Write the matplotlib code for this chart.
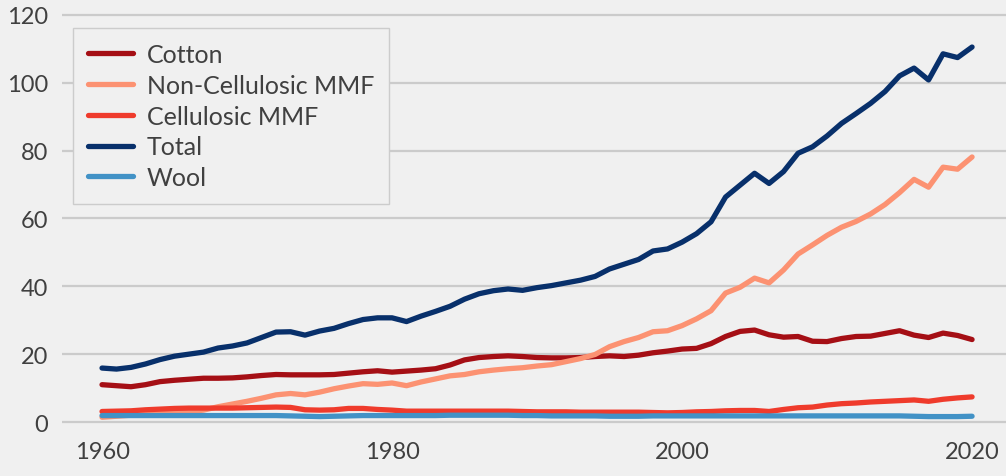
import matplotlib
matplotlib.use("Agg")

import matplotlib.pyplot as plt

BACKGROUND = "#f0f0f0"
TEXT_COLOR = "#404040"
GRID_COLOR = "#cbcbcb"
DPI = 100

years = list(range(1960, 2021))

cotton = [
    11.0, 10.7, 10.4, 11.0, 11.9, 12.3, 12.6, 12.9, 12.9, 13.0,
    13.3, 13.7, 14.0, 13.9, 13.9, 13.9, 14.0, 14.4, 14.8, 15.1,
    14.7, 15.0, 15.3, 15.7, 16.8, 18.3, 19.0, 19.3, 19.5, 19.3,
    19.0, 18.9, 18.9, 19.0, 19.3, 19.5, 19.3, 19.7, 20.4, 20.9,
    21.5, 21.7, 23.1, 25.2, 26.7, 27.1, 25.7, 25.0, 25.2, 23.8,
    23.7, 24.6, 25.2, 25.3, 26.1, 26.9, 25.6, 24.9, 26.2, 25.5,
    24.3,
]

non_cellulosic = [
    1.4, 1.7, 2.0, 2.3, 2.5, 2.8, 3.1, 3.5, 4.5, 5.3,
    6.1, 7.0, 8.0, 8.4, 8.0, 8.8, 9.8, 10.6, 11.3, 11.1,
    11.5, 10.7, 11.8, 12.7, 13.6, 14.0, 14.8, 15.3, 15.7, 16.0,
    16.5, 16.9, 17.8, 18.7, 19.9, 22.2, 23.7, 24.9, 26.6, 26.9,
    28.4, 30.4, 32.8, 38.0, 39.7, 42.4, 41.0, 44.8, 49.5, 52.2,
    55.0, 57.4, 59.1, 61.3, 64.1, 67.6, 71.5, 69.2, 75.1, 74.5,
    78.1,
]

cellulosic = [
    3.1, 3.2, 3.3, 3.6, 3.8, 4.0, 4.1, 4.1, 4.1, 4.1,
    4.2, 4.3, 4.4, 4.3, 3.6, 3.5, 3.6, 4.0, 4.0, 3.7,
    3.5, 3.2, 3.2, 3.2, 3.2, 3.2, 3.2, 3.2, 3.2, 3.1,
    3.0, 3.0, 3.0, 2.9, 2.9, 2.9, 2.9, 2.9, 2.8, 2.7,
    2.8, 3.0, 3.1, 3.3, 3.4, 3.4, 3.1, 3.7, 4.2, 4.4,
    5.0, 5.4, 5.6, 5.9, 6.1, 6.3, 6.5, 6.1, 6.7, 7.1,
    7.4,
]

total = [
    15.9, 15.6, 16.1, 17.1, 18.4, 19.4, 20.0, 20.6, 21.8, 22.4,
    23.3, 24.9, 26.5, 26.6, 25.6, 26.8, 27.6, 29.0, 30.2, 30.7,
    30.7, 29.6, 31.2, 32.6, 34.1, 36.2, 37.8, 38.7, 39.2, 38.8,
    39.6, 40.2, 41.0, 41.8, 42.9, 45.1, 46.5, 47.9, 50.4, 51.0,
    53.0, 55.5, 59.0, 66.3, 69.8, 73.3, 70.3, 73.8, 79.2, 81.1,
    84.3, 88.0, 90.9, 93.9, 97.4, 102.0, 104.3, 100.8, 108.5, 107.4,
    110.5,
]

wool = [
    1.9, 1.9, 1.9, 1.9, 1.9, 1.9, 1.9, 1.9, 1.9, 1.9,
    1.9, 1.9, 1.9, 1.8, 1.7, 1.6, 1.7, 1.8, 1.9, 1.9,
    1.9, 1.9, 1.9, 1.9, 2.0, 2.0, 2.0, 2.0, 2.0, 1.9,
    1.9, 1.8, 1.8, 1.8, 1.8, 1.7, 1.7, 1.7, 1.8, 1.8,
    1.8, 1.8, 1.8, 1.8, 1.8, 1.8, 1.8, 1.8, 1.8, 1.8,
    1.8, 1.8, 1.8, 1.8, 1.8, 1.8, 1.7, 1.6, 1.6, 1.6,
    1.7,
]

SERIES = [
    ("Cotton", cotton, "#a50f15"),
    ("Non-Cellulosic MMF", non_cellulosic, "#fc9272"),
    ("Cellulosic MMF", cellulosic, "#ef3b2c"),
    ("Total", total, "#08306b"),
    ("Wool", wool, "#4292c6"),
]


def main():
    plt.rcParams["font.family"] = ["Lato", "DejaVu Sans"]

    fig = plt.figure(figsize=(10.06, 4.77), dpi=DPI, facecolor=BACKGROUND)
    # axes box in pixels: x 62..1006, y 8..432 (from top)
    ax = fig.add_axes([62 / 1006, 45 / 477, 944 / 1006, 424 / 477],
                      facecolor=BACKGROUND)

    for name, values, color in SERIES:
        ax.plot(years, values, color=color, linewidth=3.8, label=name,
                solid_capstyle="round", solid_joinstyle="round")

    ax.set_xlim(1957.24, 2022.34)
    ax.set_ylim(-2.65, 122.3)
    ax.set_yticks(range(0, 121, 20))
    ax.set_xticks([1960, 1980, 2000, 2020])

    ax.grid(axis="y", color=GRID_COLOR, linewidth=1.6)
    ax.grid(axis="x", visible=False)
    ax.set_axisbelow(True)
    for spine in ax.spines.values():
        spine.set_visible(False)
    ax.tick_params(axis="both", length=0, labelsize=17,
                   labelcolor=TEXT_COLOR)
    ax.tick_params(axis="y", pad=10)
    ax.tick_params(axis="x", pad=7)

    leg = ax.legend(loc="upper left", bbox_to_anchor=(0.0117, 0.95),
                    borderaxespad=0, fontsize=18, frameon=True,
                    fancybox=False, framealpha=1, edgecolor="#cccccc",
                    facecolor=BACKGROUND, handlelength=1.8,
                    handletextpad=0.55, labelspacing=0.31, borderpad=0.6)
    leg.get_frame().set_linewidth(1.0)
    for text in leg.get_texts():
        text.set_color(TEXT_COLOR)

    fig.savefig("out.png", dpi=DPI, facecolor=BACKGROUND)
    plt.close(fig)


if __name__ == "__main__":
    main()
